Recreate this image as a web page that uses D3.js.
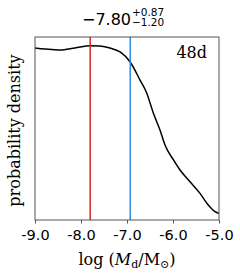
<!DOCTYPE html>
<html><head><meta charset="utf-8">
<script src="https://cdn.jsdelivr.net/npm/d3@7"></script>
<style>body{margin:0;background:#fff}svg{display:block}</style>
</head><body>
<script>
const logMass = [-9.0,-8.78,-8.46,-8.13,-7.80,-7.59,-7.37,-7.15,-6.935,-6.717,-6.572,-6.428,-6.283,-6.174,-5.993,-5.848,-5.630,-5.413,-5.233,-5.087,-5.0];
const density = [0.987,0.981,0.975,0.987,1.0,0.998,0.987,0.964,0.908,0.803,0.729,0.614,0.516,0.430,0.346,0.287,0.220,0.153,0.086,0.048,0.038];
const xTicks = [-9.0,-8.0,-7.0,-6.0,-5.0];
const medianVal = -7.80, upperVal = -6.93;
const labelText = "48d";

const W=240,H=277, m={l:35,r:21,t:37,b:57};
const svg=d3.select("body").append("svg").attr("width",W).attr("height",H);
const x=d3.scaleLinear().domain([-9,-5]).range([m.l,W-m.r]);
const y=d3.scaleLinear().domain([0,1.05]).range([H-m.b,m.t]);
const serif="DejaVu Serif", sans="DejaVu Sans";

svg.append("path").datum(logMass.map((v,i)=>[v,density[i]]))
 .attr("fill","none").attr("stroke","#000").attr("stroke-width",1.5)
 .attr("d",d3.line().x(d=>x(d[0])).y(d=>y(d[1])).curve(d3.curveMonotoneX));
svg.append("line").attr("x1",x(medianVal)).attr("x2",x(medianVal)).attr("y1",y(0)).attr("y2",y(1.05)).attr("stroke","#d62728").attr("stroke-width",1.5);
svg.append("line").attr("x1",x(upperVal)).attr("x2",x(upperVal)).attr("y1",y(0)).attr("y2",y(1.05)).attr("stroke","#2e8fe0").attr("stroke-width",1.5);

svg.append("rect").attr("x",m.l).attr("y",m.t).attr("width",W-m.l-m.r).attr("height",H-m.t-m.b)
 .attr("fill","none").attr("stroke","#555").attr("stroke-width",1);

const ax=svg.append("g").attr("transform",`translate(0,${H-m.b})`)
 .call(d3.axisBottom(x).tickValues(xTicks).tickSize(3.5).tickSizeOuter(0));
ax.select(".domain").remove();
ax.selectAll("line").attr("stroke","#555");
ax.selectAll("text").attr("font-family",sans).attr("font-size",14.5).attr("fill","#000").attr("dy","0.95em")
 .text(d=>d.toFixed(1));

svg.append("text").attr("x",W-m.r-12).attr("y",58).attr("text-anchor","end")
 .attr("font-family",serif).attr("font-size",16).text(labelText);

// title: main value with stacked upper/lower errors
svg.append("text").attr("x",131).attr("y",24.5).attr("text-anchor","end").attr("font-family",sans).attr("font-size",16).text("\u22127.80");
svg.append("text").attr("x",132).attr("y",15.5).attr("font-family",sans).attr("font-size",10.5).text("+0.87");
svg.append("text").attr("x",132).attr("y",26).attr("font-family",sans).attr("font-size",10.5).text("\u22121.20");

svg.append("text").attr("transform",`translate(20,${(m.t+H-m.b)/2+2}) rotate(-90)`).attr("text-anchor","middle")
 .attr("font-family",serif).attr("font-size",16).text("probability density");

const xl=svg.append("text").attr("x",(m.l+W-m.r)/2).attr("y",265).attr("text-anchor","middle").attr("font-family",serif).attr("font-size",16);
xl.append("tspan").text("log (");
xl.append("tspan").attr("font-style","italic").text("M");
xl.append("tspan").attr("font-size",11).attr("dy",3).text("d");
xl.append("tspan").attr("dy",-3).text("/M");
xl.append("tspan").attr("font-size",11).attr("dy",3).text("\u2299");
xl.append("tspan").attr("dy",-3).text(")");
</script>
</body></html>
